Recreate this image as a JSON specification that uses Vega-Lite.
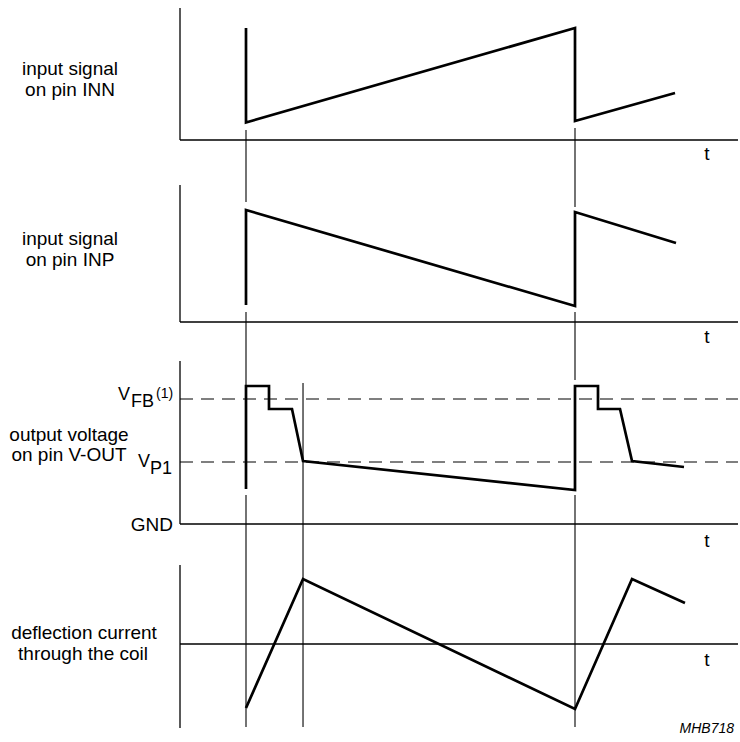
{
  "$schema": "https://vega.github.io/schema/vega-lite/v6.json",
  "width": 740,
  "height": 742,
  "padding": 0,
  "autosize": {"type": "fit", "contains": "padding"},
  "background": "white",
  "config": {"view": {"stroke": null}},
  "datasets": {
    "axes": [
      {"t": -0.2006, "h": 734, "t2": -0.2006, "h2": 602},
      {"t": -0.2006, "h": 602, "t2": 1.4954, "h2": 602},
      {"t": -0.2006, "h": 557, "t2": -0.2006, "h2": 420},
      {"t": -0.2006, "h": 420, "t2": 1.4954, "h2": 420},
      {"t": -0.2006, "h": 381, "t2": -0.2006, "h2": 218},
      {"t": -0.2006, "h": 218, "t2": 1.4954, "h2": 218},
      {"t": -0.2006, "h": 177, "t2": -0.2006, "h2": 14},
      {"t": -0.2006, "h": 98, "t2": 1.4954, "h2": 98}
    ],
    "markers": [
      {"t": 0, "h": 612, "h2": 540},
      {"t": 0, "h": 430, "h2": 356},
      {"t": 0, "h": 247, "h2": 15},
      {"t": 0.1733, "h": 359, "h2": 15},
      {"t": 1, "h": 614, "h2": 535},
      {"t": 1, "h": 430, "h2": 362},
      {"t": 1, "h": 247, "h2": 15}
    ],
    "levels": [
      {"name": "VFB", "t": -0.2006, "t2": 1.4954, "h": 343},
      {"name": "VP1", "t": -0.2006, "t2": 1.4954, "h": 280}
    ],
    "waves": [
      {"wave": "INN", "i": 0, "t": 0, "h": 714},
      {"wave": "INN", "i": 1, "t": 0, "h": 619.5},
      {"wave": "INN", "i": 2, "t": 1, "h": 714},
      {"wave": "INN", "i": 3, "t": 1, "h": 621},
      {"wave": "INN", "i": 4, "t": 1.304, "h": 649},
      {"wave": "INP", "i": 0, "t": 0, "h": 437},
      {"wave": "INP", "i": 1, "t": 0, "h": 532},
      {"wave": "INP", "i": 2, "t": 1, "h": 436},
      {"wave": "INP", "i": 3, "t": 1, "h": 530},
      {"wave": "INP", "i": 4, "t": 1.307, "h": 499},
      {"wave": "VOUT", "i": 0, "t": 0, "h": 253},
      {"wave": "VOUT", "i": 1, "t": 0, "h": 356},
      {"wave": "VOUT", "i": 2, "t": 0.0699, "h": 356},
      {"wave": "VOUT", "i": 3, "t": 0.0699, "h": 333},
      {"wave": "VOUT", "i": 4, "t": 0.1398, "h": 333},
      {"wave": "VOUT", "i": 5, "t": 0.1733, "h": 281},
      {"wave": "VOUT", "i": 6, "t": 1, "h": 252},
      {"wave": "VOUT", "i": 7, "t": 1, "h": 356},
      {"wave": "VOUT", "i": 8, "t": 1.0699, "h": 356},
      {"wave": "VOUT", "i": 9, "t": 1.0699, "h": 333},
      {"wave": "VOUT", "i": 10, "t": 1.1368, "h": 333},
      {"wave": "VOUT", "i": 11, "t": 1.1733, "h": 281},
      {"wave": "VOUT", "i": 12, "t": 1.3313, "h": 275},
      {"wave": "COIL", "i": 0, "t": 0, "h": 34},
      {"wave": "COIL", "i": 1, "t": 0.1733, "h": 163},
      {"wave": "COIL", "i": 2, "t": 1, "h": 33},
      {"wave": "COIL", "i": 3, "t": 1.1733, "h": 163},
      {"wave": "COIL", "i": 4, "t": 1.3343, "h": 139}
    ],
    "texts": [
      {"role": "label", "t": -0.535, "h": 667, "text": "input signal"},
      {"role": "label", "t": -0.535, "h": 646, "text": "on pin INN"},
      {"role": "label", "t": -0.535, "h": 497, "text": "input signal"},
      {"role": "label", "t": -0.535, "h": 476, "text": "on pin INP"},
      {"role": "label", "t": -0.538, "h": 301, "text": "output voltage"},
      {"role": "label", "t": -0.538, "h": 281, "text": "on pin V-OUT"},
      {"role": "label", "t": -0.4924, "h": 103, "text": "deflection current"},
      {"role": "label", "t": -0.4954, "h": 82, "text": "through the coil"},
      {"role": "sym", "t": -0.3891, "h": 342, "text": "V"},
      {"role": "sym", "t": -0.3495, "h": 335, "text": "FB"},
      {"role": "sup", "t": -0.2736, "h": 344, "text": "(1)"},
      {"role": "sym", "t": -0.3283, "h": 275, "text": "V"},
      {"role": "sym", "t": -0.2918, "h": 268, "text": "P1"},
      {"role": "right", "t": -0.2219, "h": 211, "text": "GND"},
      {"role": "axis", "t": 1.4012, "h": 582, "text": "t"},
      {"role": "axis", "t": 1.4012, "h": 399, "text": "t"},
      {"role": "axis", "t": 1.4012, "h": 195, "text": "t"},
      {"role": "axis", "t": 1.4012, "h": 76, "text": "t"},
      {"role": "code", "t": 1.4833, "h": 9, "text": "MHB718"}
    ]
  },
  "encoding": {
    "x": {"field": "t", "type": "quantitative", "scale": {"domain": [-0.74772, 1.50152], "zero": false, "nice": false}, "axis": null},
    "y": {"field": "h", "type": "quantitative", "scale": {"domain": [0, 742], "zero": false, "nice": false}, "axis": null}
  },
  "layer": [
    {
      "data": {"name": "axes"},
      "mark": {"type": "rule", "color": "#000000", "strokeWidth": 1.3},
      "encoding": {
        "x2": {"field": "t2"},
        "y2": {"field": "h2"}
      }
    },
    {
      "data": {"name": "markers"},
      "mark": {"type": "rule", "color": "#000000", "strokeWidth": 1.1},
      "encoding": {
        "y2": {"field": "h2"}
      }
    },
    {
      "data": {"name": "levels"},
      "mark": {"type": "rule", "color": "#000000", "strokeWidth": 1.2, "strokeDash": [13, 8]},
      "encoding": {
        "x2": {"field": "t2"}
      }
    },
    {
      "data": {"name": "waves"},
      "mark": {"type": "line", "color": "#000000", "strokeWidth": 2.7, "strokeJoin": "miter", "strokeCap": "butt"},
      "encoding": {
        "detail": {"field": "wave"},
        "order": {"field": "i", "type": "quantitative"}
      }
    },
    {
      "data": {"name": "texts"},
      "transform": [{"filter": "datum.role === 'label'"}],
      "mark": {"type": "text", "font": "Liberation Sans", "fontSize": 19, "align": "center", "baseline": "alphabetic", "color": "#000000"},
      "encoding": {"text": {"field": "text"}}
    },
    {
      "data": {"name": "texts"},
      "transform": [{"filter": "datum.role === 'sym'"}],
      "mark": {"type": "text", "font": "Liberation Sans", "fontSize": 18, "align": "left", "baseline": "alphabetic", "color": "#000000"},
      "encoding": {"text": {"field": "text"}}
    },
    {
      "data": {"name": "texts"},
      "transform": [{"filter": "datum.role === 'sup'"}],
      "mark": {"type": "text", "font": "Liberation Sans", "fontSize": 14, "align": "left", "baseline": "alphabetic", "color": "#000000"},
      "encoding": {"text": {"field": "text"}}
    },
    {
      "data": {"name": "texts"},
      "transform": [{"filter": "datum.role === 'right'"}],
      "mark": {"type": "text", "font": "Liberation Sans", "fontSize": 19, "align": "right", "baseline": "alphabetic", "color": "#000000"},
      "encoding": {"text": {"field": "text"}}
    },
    {
      "data": {"name": "texts"},
      "transform": [{"filter": "datum.role === 'axis'"}],
      "mark": {"type": "text", "font": "Liberation Sans", "fontSize": 19, "align": "center", "baseline": "alphabetic", "color": "#000000"},
      "encoding": {"text": {"field": "text"}}
    },
    {
      "data": {"name": "texts"},
      "transform": [{"filter": "datum.role === 'code'"}],
      "mark": {"type": "text", "font": "Liberation Sans", "fontSize": 14, "fontStyle": "italic", "align": "right", "baseline": "alphabetic", "color": "#000000"},
      "encoding": {"text": {"field": "text"}}
    }
  ]
}
